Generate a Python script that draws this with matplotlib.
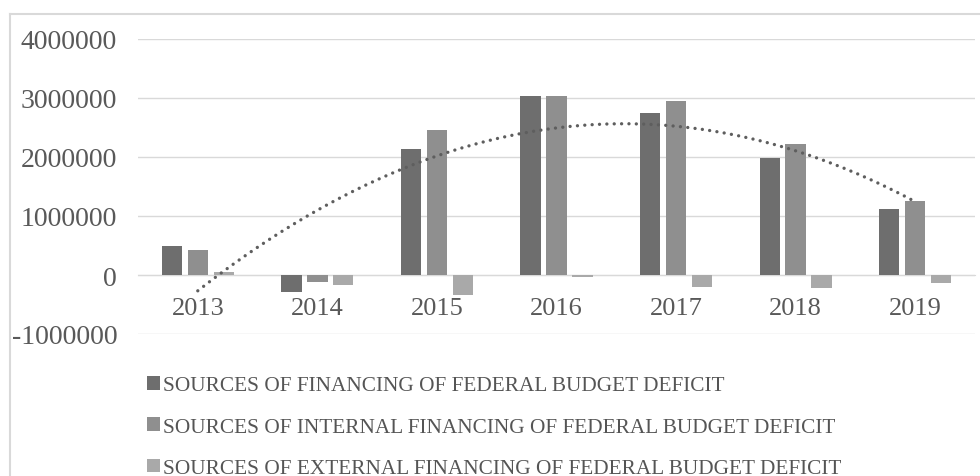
import numpy as np
import matplotlib
matplotlib.use('Agg')
import matplotlib.pyplot as plt
from matplotlib.lines import Line2D

years = ['2013', '2014', '2015', '2016', '2017', '2018', '2019']
total_fin = [490000, -293000, 2136000, 3029000, 2746000, 1983000, 1119000]
internal_fin = [424000, -124000, 2463000, 3030000, 2944000, 2226000, 1249000]
external_fin = [46000, -164000, -334000, -28000, -203000, -226000, -141000]
labels = ['SOURCES OF FINANCING OF FEDERAL BUDGET DEFICIT',
          'SOURCES OF INTERNAL FINANCING OF FEDERAL BUDGET DEFICIT',
          'SOURCES OF EXTERNAL FINANCING OF FEDERAL BUDGET DEFICIT']
colors = ['#6e6e6e', '#8f8f8f', '#a9a9a9']
yticks = [-1000000, 0, 1000000, 2000000, 3000000, 4000000]

plt.rcParams['font.family'] = ['Liberation Serif', 'DejaVu Serif']
W, H = 980, 477
fig = plt.figure(figsize = (W/100, H/100), dpi = 100)
ax = fig.add_axes([138/W, 1 - 335/H, 837/W, 295/H])

x = np.arange(len(years))
bw = 0.17; off = 0.217
series = [total_fin, internal_fin, external_fin]
for i, (s, c, lab) in enumerate(zip(series, colors, labels)):
    ax.bar(x + (i - 1)*off, s, width = bw, color = c, label = lab, zorder = 3)

# polynomial (2nd order) trend of total financing, round dots
coef = np.polyfit(x, total_fin, 2)
xs = np.linspace(0, len(years) - 1, 300)
ax.plot(xs, np.polyval(coef, xs), color = '#5e5e5e', lw = 2.4,
        linestyle = (0, (0.01, 2.2)), dash_capstyle = 'round', zorder = 4)

ax.set_xlim(-0.5, len(years) - 0.5)
ax.set_ylim(-1000000, 4000000)
ax.set_yticks(yticks)
ax.set_yticklabels([str(v) for v in yticks])
ax.grid(axis = 'y', color = '#d9d9d9', lw = 1.0, zorder = 0)
for sp in ['top', 'right', 'left']:
    ax.spines[sp].set_visible(False)
ax.spines['bottom'].set_position(('data', 0))
ax.spines['bottom'].set_color('#d9d9d9')
ax.set_xticks(x)
ax.set_xticklabels(years)
ax.tick_params(axis = 'x', length = 0, pad = 15.5, labelsize = 19, labelcolor = '#595959')
ax.tick_params(axis = 'y', length = 0, pad = 15, labelsize = 20, labelcolor = '#595959')

fig.legend(loc = 'upper left', bbox_to_anchor = (147/W, 1 - 377/H), frameon = False,
           fontsize = 15.3, labelcolor = '#555555', handlelength = 0.62,
           handleheight = 0.62, handletextpad = 0.12, labelspacing = 1.03,
           borderpad = 0, borderaxespad = 0)

# light frame round the chart
fig.add_artist(Line2D([10/W, 1], [1 - 15/H, 1 - 15/H], color = '#d9d9d9', lw = 1.5))
fig.add_artist(Line2D([10/W, 10/W], [0, 1 - 15/H], color = '#d9d9d9', lw = 1.5))

plt.savefig('out.png', dpi = 100)
